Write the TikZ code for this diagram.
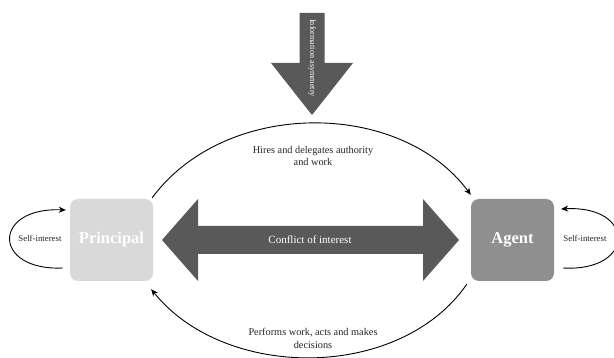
\documentclass[tikz,border=0pt]{standalone}
\usepackage{fontspec}
\setmainfont{Liberation Serif}
\usetikzlibrary{arrows.meta,calc}
\definecolor{darkarrow}{HTML}{595959}
\definecolor{princol}{HTML}{D9D9D9}
\definecolor{agentcol}{HTML}{8F8F8F}
\definecolor{labelcol}{HTML}{262626}
\begin{document}
\begin{tikzpicture}[x=1pt,y=-1pt,
  actor/.style={rounded corners=8pt,minimum width=83pt,minimum height=82pt,inner sep=0pt,
    text=white,font=\fontsize{16.5}{18}\selectfont\bfseries},
  lbl/.style={text=labelcol,font=\fontsize{10.3}{12.5}\selectfont,align=center},
  flow/.style={-{Stealth[length=7pt,width=6pt]},line width=0.9pt,black},
  bigarrow/.style={fill=darkarrow,draw=none}]
\useasboundingbox[fill=white] (0,0) rectangle (614,358);
% boxes
\node[actor,fill=princol] (P) at (111.5,240) {Principal};
\node[actor,fill=agentcol] (A) at (512.5,240) {Agent};
% down arrow
\fill[bigarrow] (299.5,13) -- (324.5,13) -- (324.5,63) -- (353,63) -- (312,115) -- (271,63) -- (299.5,63) -- cycle;
\node[rotate=-90,text=white,font=\fontsize{8.2}{9}\selectfont] (IA) at (312,58) {Information asymmetry};
% double arrow
\fill[bigarrow] (162,240) -- (198,199) -- (198,226) -- (423,226) -- (423,199) -- (459,240)
  -- (423,281) -- (423,254) -- (198,254) -- (198,281) -- cycle;
\node[text=white,font=\fontsize{11}{12}\selectfont] (CI) at (310,240) {Conflict of interest};
% top arc
\coordinate (t1) at ($(P.north east)+(-1,-1)$);
\coordinate (t2) at ($(A.north west)+(0,-4)$);
\draw[flow] (t1) .. controls (225,99) and (400,99) .. (t2);
\node[lbl] (H) at (313,156) {Hires and delegates authority\\and work};
% bottom arc
\coordinate (b1) at ($(A.south west)+(-4,3)$);
\coordinate (b2) at ($(P.south east)+(-2,8)$);
\draw[flow] (b1) .. controls (400,381) and (225,381) .. (b2);
\node[lbl] (W) at (313,338.5) {Performs work, acts and makes\\decisions};
% self-interest loops
\coordinate (l1) at ($(P.west)+(-7,28)$);
\coordinate (l2) at ($(P.west)+(-4,-30)$);
\draw[flow] (l1) .. controls (-8,271) and (-8,207) .. (l2);
\node[lbl,font=\fontsize{8.8}{10}\selectfont] (SL) at (40,238) {Self-interest};
\coordinate (r1) at ($(A.east)+(9,28)$);
\coordinate (r2) at ($(A.east)+(7,-31)$);
\draw[flow] (r1) .. controls (636,272) and (636,205) .. (r2);
\node[lbl,font=\fontsize{8.8}{10}\selectfont] (SR) at (585,238) {Self-interest};
\end{tikzpicture}
\end{document}
